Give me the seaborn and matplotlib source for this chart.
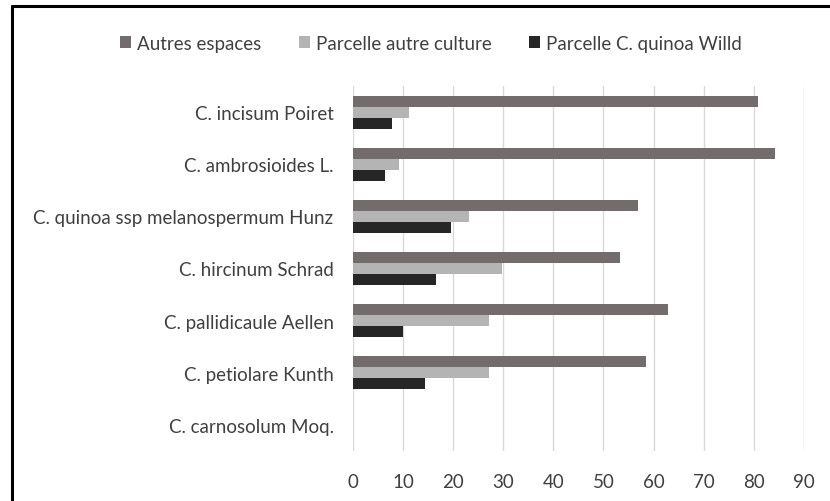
import pandas as pd
import seaborn as sns
import matplotlib.pyplot as plt
from matplotlib.lines import Line2D

# Data
species = [
    "C. incisum Poiret",
    "C. ambrosioides L.",
    "C. quinoa ssp melanospermum Hunz",
    "C. hircinum Schrad",
    "C. pallidicaule Aellen",
    "C. petiolare Kunth",
    "C. carnosolum Moq.",
]
autres_espaces = [80.8, 84.2, 56.9, 53.4, 62.8, 58.4, 0]
parcelle_autre = [11.2, 9.2, 23.2, 29.8, 27.2, 27.2, 0]
parcelle_quinoa = [7.8, 6.4, 19.6, 16.6, 9.9, 14.4, 0]
series_names = ["Autres espaces", "Parcelle autre culture", "Parcelle C. quinoa Willd"]
x_ticks = [0, 10, 20, 30, 40, 50, 60, 70, 80, 90]


def build_frame():
    rows = []
    for name, vals in zip(series_names, [autres_espaces, parcelle_autre, parcelle_quinoa]):
        for sp, v in zip(species, vals):
            rows.append({"Espece": sp, "Valeur": v, "Serie": name})
    return pd.DataFrame(rows)


def main():
    df = build_frame()

    sns.set_style("white")
    plt.rcParams["font.family"] = ["Lato", "DejaVu Sans"]

    fig = plt.figure(figsize=(8.3, 5.02), dpi=100)
    ax = fig.add_axes([0.4253, 0.0996, 0.5431, 0.7271])

    palette = ["#736c6c", "#b4b4b4", "#262626"]
    sns.barplot(
        data=df, x="Valeur", y="Espece", hue="Serie",
        order=species, hue_order=series_names,
        palette=palette, orient="h", width=0.635,
        saturation=1, ax=ax, linewidth=0,
    )

    # Axes styling
    ax.set_xlim(0, 90)
    ax.set_xticks(x_ticks)
    ax.set_xlabel("")
    ax.set_ylabel("")
    ax.grid(axis="x", color="#d9d9d9", linewidth=1)
    ax.set_axisbelow(True)
    for s in ax.spines.values():
        s.set_visible(False)
    ax.tick_params(axis="both", length=0, labelsize=13.5, colors="#404040")
    ax.tick_params(axis="y", pad=14)
    ax.tick_params(axis="x", pad=16)

    # Legend on top
    handles, labels = ax.get_legend_handles_labels()
    ax.legend_.remove()
    fig.legend(
        handles, labels, loc="center", bbox_to_anchor=(0.519, 0.912),
        ncol=3, frameon=False, fontsize=13.5, handlelength=0.6,
        handleheight=0.6, handletextpad=0.3, columnspacing=2.0,
        labelcolor="#404040",
    )

    # Frame around the figure (top and left edges visible)
    fig.add_artist(Line2D([0.0139, 0.0139], [0.0, 0.986], color="black", linewidth=2.2,
                          transform=fig.transFigure))
    fig.add_artist(Line2D([0.0139, 1.0], [0.986, 0.986], color="black", linewidth=2.2,
                          transform=fig.transFigure))

    fig.savefig("out.png", dpi=100)


if __name__ == "__main__":
    main()
